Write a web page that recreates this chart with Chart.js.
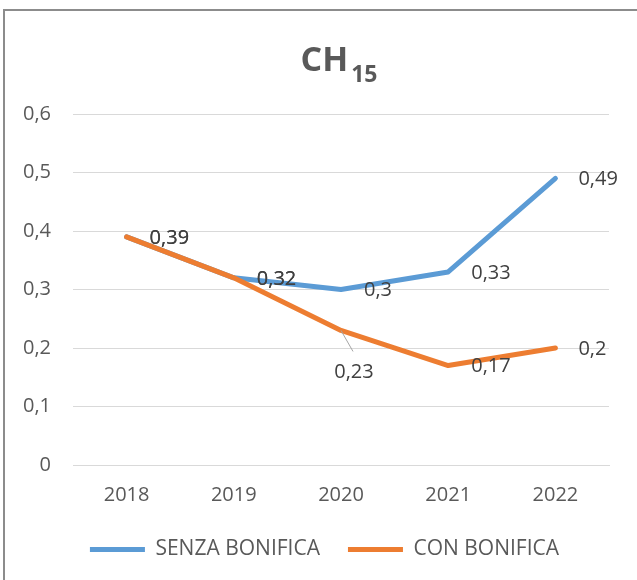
<!DOCTYPE html>
<html><head><meta charset="utf-8">
<script src="https://cdn.jsdelivr.net/npm/chart.js@4.4.0/dist/chart.umd.min.js"></script>
<style>html,body{margin:0;padding:0;background:#fff;overflow:hidden}</style>
</head><body>
<canvas id="c" width="637" height="580" style="display:block;width:637px;height:580px"></canvas>
<script>
const categories = ['2018', '2019', '2020', '2021', '2022'];
const senzaBonifica = [0.39, 0.32, 0.3, 0.33, 0.49];
const conBonifica = [0.39, 0.32, 0.23, 0.17, 0.2];
const seriesNames = ['SENZA BONIFICA', 'CON BONIFICA'];
const titleMain = 'CH';
const titleSub = '15';
const yMin = 0, yMax = 0.6, yStep = 0.1;

const BLUE = '#5B9BD5', ORANGE = '#ED7D31';
const FONT = "'Open Sans', 'DejaVu Sans', sans-serif";
const fmt = v => String(Math.round(v * 100) / 100).replace('.', ',');

const frame = {
  id: 'frame',
  beforeDraw(chart) {
    const ctx = chart.ctx;
    ctx.save();
    ctx.fillStyle = '#fff';
    ctx.fillRect(0, 0, chart.width, chart.height);
    ctx.strokeStyle = '#8c8c8c';
    ctx.lineWidth = 2;
    ctx.beginPath();
    ctx.moveTo(4, chart.height + 2);
    ctx.lineTo(4, 10);
    ctx.lineTo(chart.width + 2, 10);
    ctx.stroke();
    ctx.restore();
  }
};

const legendShift = {
  id: 'legendShift',
  afterLayout(chart) {
    const lg = chart.legend;
    if (lg) { lg.left += 20; lg.right += 20; }
  }
};

const subTitle = {
  id: 'subTitle',
  afterDraw(chart) {
    const ctx = chart.ctx;
    ctx.save();
    ctx.fillStyle = '#595959';
    ctx.textBaseline = 'alphabetic';
    ctx.textAlign = 'left';
    const mainFont = "bold 34px " + FONT, subFont = "bold 23px " + FONT;
    ctx.font = mainFont; const w1 = ctx.measureText(titleMain).width;
    ctx.font = subFont; const w2 = ctx.measureText(titleSub).width;
    const gap = 3;
    const cx = (chart.chartArea.left + chart.chartArea.right) / 2 - 2;
    const x0 = cx - (w1 + gap + w2) / 2;
    const base = 71;
    ctx.font = mainFont; ctx.fillText(titleMain, x0, base);
    ctx.font = subFont; ctx.fillText(titleSub, x0 + w1 + gap, base + 11);
    ctx.restore();
  }
};

const dataLabels = {
  id: 'dataLabels',
  afterDatasetsDraw(chart, args, opts) {
    const ctx = chart.ctx;
    ctx.save();
    ctx.font = "20px " + FONT;
    ctx.fillStyle = '#404040';
    chart.data.datasets.forEach((ds, di) => {
      const meta = chart.getDatasetMeta(di);
      meta.data.forEach((pt, i) => {
        const key = di + ':' + i;
        const txt = fmt(ds.data[i]);
        const special = opts.moved[key];
        if (special) {
          ctx.strokeStyle = '#a6a6a6';
          ctx.lineWidth = 1;
          ctx.beginPath();
          ctx.moveTo(pt.x, pt.y);
          ctx.lineTo(pt.x + special.lx, pt.y + special.ly);
          ctx.stroke();
          ctx.textAlign = 'center';
          ctx.textBaseline = 'middle';
          ctx.fillText(txt, pt.x + special.dx, pt.y + special.dy);
        } else {
          ctx.textAlign = 'left';
          ctx.textBaseline = 'middle';
          ctx.fillText(txt, pt.x + opts.dx, pt.y + 1);
        }
      });
    });
    ctx.restore();
  }
};

new Chart(document.getElementById('c'), {
  type: 'line',
  data: {
    labels: categories,
    datasets: [
      { label: seriesNames[0], data: senzaBonifica, borderColor: BLUE, backgroundColor: BLUE,
        borderWidth: 5, pointRadius: 0, tension: 0, borderCapStyle: 'round', borderJoinStyle: 'round', order: 1 },
      { label: seriesNames[1], data: conBonifica, borderColor: ORANGE, backgroundColor: ORANGE,
        borderWidth: 5, pointRadius: 0, tension: 0, borderCapStyle: 'round', borderJoinStyle: 'round', order: 0 }
    ]
  },
  options: {
    responsive: false,
    animation: false,
    devicePixelRatio: 1,
    layout: { padding: { left: 0, right: 28, top: 114, bottom: 10 } },
    scales: {
      x: {
        offset: true,
        grid: { display: false, drawTicks: false },
        border: { display: true, color: '#d9d9d9', width: 1 },
        ticks: { color: '#595959', font: { family: FONT, size: 20 }, padding: 18, maxRotation: 0 },
        afterFit(s) { s.height = 46; }
      },
      y: {
        min: yMin, max: yMax,
        grid: { color: '#d9d9d9', lineWidth: 1, drawTicks: false },
        border: { display: false },
        ticks: { stepSize: yStep, color: '#595959', font: { family: FONT, size: 20 }, padding: 22,
                 callback: v => fmt(v) },
        afterFit(s) { s.width = 73; }
      }
    },
    plugins: {
      title: { display: false },
      tooltip: { enabled: false },
      legend: {
        position: 'bottom',
        sort: (a, b) => a.datasetIndex - b.datasetIndex,
        labels: {
          color: '#595959',
          font: { family: FONT, size: 21 },
          boxWidth: 55,
          boxHeight: 5,
          padding: 28,
          useBorderRadius: true,
          borderRadius: 2.5,
          generateLabels(chart) {
            return chart.data.datasets.map((ds, i) => ({
              text: ds.label, fillStyle: ds.borderColor, strokeStyle: ds.borderColor,
              lineWidth: 0, hidden: false, datasetIndex: i, fontColor: '#595959'
            }));
          }
        }
      },
      dataLabels: { dx: 23, moved: { '1:2': { dx: 13, dy: 42, lx: 12, ly: 21 } } }
    }
  },
  plugins: [frame, legendShift, subTitle, dataLabels]
});
</script>
</body></html>
